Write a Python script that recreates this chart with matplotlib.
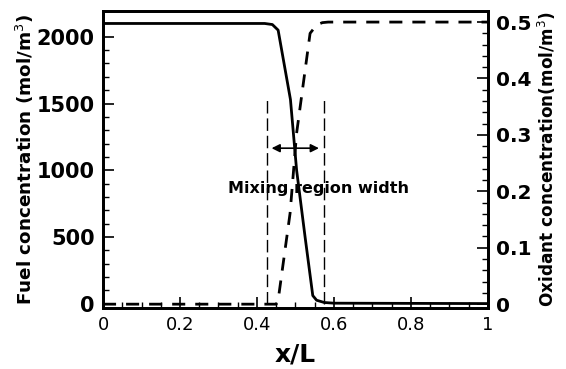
import matplotlib
matplotlib.use("Agg")
import matplotlib.pyplot as plt
from matplotlib.ticker import MultipleLocator

plt.rcParams['font.family'] = ['DejaVu Sans']

# fuel profile (solid)
x_fuel = [0.0, 0.42, 0.44, 0.455, 0.487, 0.503, 0.525, 0.545, 0.555, 0.575, 0.6, 1.0]
fuel = [2100, 2100, 2092, 2050, 1530, 1000, 500, 60, 25, 8, 3, 0]

# oxidant profile (dashed)
x_ox = [0.0, 0.45, 0.455, 0.486, 0.503, 0.538, 0.555, 0.57, 0.585, 1.0]
oxidant = [0.0, 0.0, 0.007, 0.161, 0.303, 0.48, 0.495, 0.499, 0.5, 0.5]

# mixing region markers
mix_left, mix_right = 0.425, 0.574
mix_top = 1540
arrow_y = 1165
arrow_x = (0.438, 0.561)
label_text = "Mixing region width"

fig = plt.figure(figsize=(5.66, 3.69), dpi=100)
ax = fig.add_axes([0.182, 0.165, 0.680, 0.805])
ax2 = ax.twinx()

ax.plot(x_fuel, fuel, color='black', lw=2.0, solid_joinstyle='round')
ax2.plot(x_ox, oxidant, color='black', lw=2.0, dashes=(4.7, 3.6))

for xv in (mix_left, mix_right):
    ax.plot([xv, xv], [0, mix_top], color='black', lw=1.0, dashes=(9, 3.5))

for xa in arrow_x:
    ax.annotate('', xy=(xa, arrow_y), xytext=(0.5, arrow_y),
                arrowprops=dict(arrowstyle='-|>', color='black', lw=1.2,
                                mutation_scale=12, shrinkA=0, shrinkB=0))
ax.text(0.325, 866, label_text, fontsize=11.5, fontweight='bold', va='center', ha='left')

ax.set_xlim(0, 1)
ax.set_ylim(-34, 2193)
ax2.set_ylim(-0.007, 0.5195)

ax.xaxis.set_minor_locator(MultipleLocator(0.05))
ax.yaxis.set_major_locator(MultipleLocator(500))
ax.yaxis.set_minor_locator(MultipleLocator(100))
ax2.yaxis.set_minor_locator(MultipleLocator(0.02))
ax2.set_yticks([0, 0.1, 0.2, 0.3, 0.4, 0.5])
ax2.set_yticklabels(['0', '0.1', '0.2', '0.3', '0.4', '0.5'])
ax.set_xticks([0, 0.2, 0.4, 0.6, 0.8, 1.0])
ax.set_xticklabels(['0', '0.2', '0.4', '0.6', '0.8', '1'])

ax.tick_params(axis='x', direction='in', length=8, width=1.2, labelsize=13, pad=6, top=False)
ax.tick_params(axis='x', which='minor', direction='in', length=4, width=1, top=False)
ax.tick_params(axis='y', direction='in', length=8, width=1.2, labelsize=15, pad=6)
ax.tick_params(axis='y', which='minor', direction='in', length=4, width=1)
ax2.tick_params(axis='y', direction='in', length=8, width=1.2, labelsize=14.5, pad=6)
ax2.tick_params(axis='y', which='minor', direction='in', length=4, width=1)
for t in ax.get_yticklabels() + ax2.get_yticklabels():
    t.set_fontweight('bold')

for a in (ax, ax2):
    for s in a.spines.values():
        s.set_linewidth(2.0)

ax.set_xlabel('x/L', fontsize=18, fontweight='bold', labelpad=6)
ax.set_ylabel('Fuel concentration (mol/m$^3$)', fontsize=13.2, fontweight='bold', labelpad=0.5)
ax2.set_ylabel('Oxidant concentration(mol/m$^3$)', fontsize=12.2, fontweight='bold', labelpad=3)

fig.savefig('out.png', dpi=100)
